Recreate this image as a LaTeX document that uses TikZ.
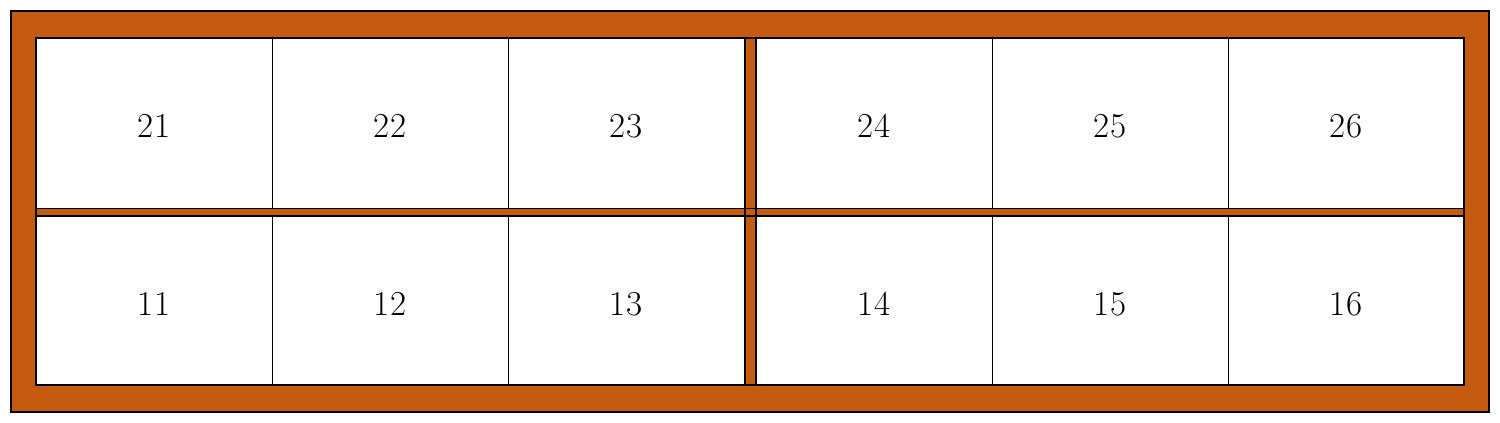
\documentclass[tikz,border=0pt]{standalone}
\definecolor{frameor}{HTML}{C55A11}
\begin{document}
\begin{tikzpicture}[x=1pt,y=-1pt,
  framebox/.style={fill=frameor,draw=black,line width=2pt},
  bar/.style={fill=frameor,draw=black,line width=1.3pt},
  divider/.style={draw=black,line width=0.9pt},
  cellnum/.style={font=\fontsize{35}{38}\selectfont,inner sep=0pt}]
\useasboundingbox (0,0) rectangle (1500,423);
\draw[framebox] (11,11) rectangle (1489,412);
\draw[fill=white,draw=black,line width=2pt] (36,38) rectangle (1464,385);
% cell dividers
\foreach \x in {272,508,992,1228}{
  \draw[divider] (\x,38) -- (\x,385);
}
% bars
\draw[bar] (36,208.5) rectangle (1464,216);
\draw[bar] (745,38) rectangle (756,385);
\draw[black,line width=1.3pt] (745,208.5) -- (756,208.5) (745,216) -- (756,216);
% labels
\node[cellnum] (c21) at (154,126) {21};
\node[cellnum] (c22) at (390,126) {22};
\node[cellnum] (c23) at (626,126) {23};
\node[cellnum] (c24) at (874,126) {24};
\node[cellnum] (c25) at (1110,126) {25};
\node[cellnum] (c26) at (1346,126) {26};
\node[cellnum] (c11) at (154,304) {11};
\node[cellnum] (c12) at (390,304) {12};
\node[cellnum] (c13) at (626,304) {13};
\node[cellnum] (c14) at (874,304) {14};
\node[cellnum] (c15) at (1110,304) {15};
\node[cellnum] (c16) at (1346,304) {16};
\end{tikzpicture}
\end{document}
